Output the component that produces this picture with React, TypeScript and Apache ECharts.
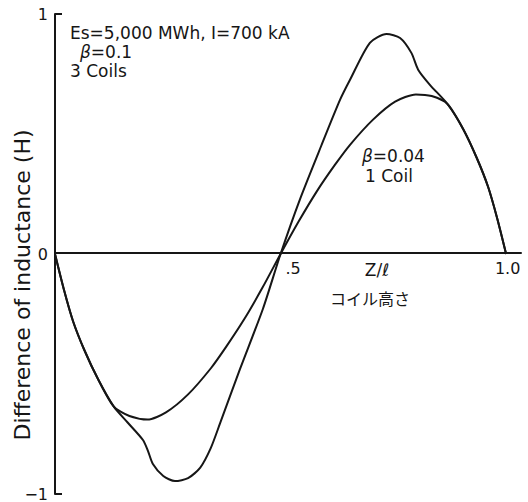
import React, { useEffect, useRef } from "react";
import * as echarts from "echarts";

// Normalised coil height Z/ℓ and inductance difference (H), β = 0.1, three coils
const coils3Z = [0, 0.02, 0.04, 0.065, 0.095, 0.13, 0.16, 0.195, 0.206, 0.217, 0.24, 0.266, 0.295, 0.322, 0.345, 0.366, 0.41, 0.461, 0.5, 0.543, 0.59, 0.632, 0.654, 0.698, 0.735, 0.765, 0.79, 0.805, 0.831, 0.87, 0.905, 0.935, 0.96, 0.98, 1.0];
const coils3L = [0, -0.15, -0.28, -0.4, -0.52, -0.635, -0.7, -0.775, -0.82, -0.875, -0.925, -0.946, -0.934, -0.89, -0.81, -0.705, -0.48, -0.228, 0, 0.228, 0.45, 0.643, 0.726, 0.88, 0.917, 0.9, 0.838, 0.768, 0.705, 0.625, 0.52, 0.4, 0.28, 0.15, 0];

// β = 0.04, single coil
const coil1Z = [0, 0.02, 0.04, 0.065, 0.095, 0.13, 0.165, 0.205, 0.246, 0.295, 0.346, 0.38, 0.42, 0.46, 0.5, 0.54, 0.58, 0.62, 0.654, 0.705, 0.754, 0.8, 0.835, 0.87, 0.905, 0.935, 0.96, 0.98, 1.0];
const coil1L = [0, -0.15, -0.28, -0.4, -0.52, -0.635, -0.675, -0.69, -0.66, -0.585, -0.475, -0.385, -0.27, -0.14, 0, 0.135, 0.26, 0.37, 0.455, 0.56, 0.635, 0.665, 0.658, 0.625, 0.52, 0.4, 0.28, 0.15, 0];

const yTicks = [-1, 0, 1];
const yTickText = ["−1", "0", "1"];
const xTicks = [0.5, 1.0];
const xTickText = [".5", "1.0"];

const FONT = "DejaVu Sans";
const INK = "#161616";

const GRID_TOP = 14;
const GRID_BOTTOM = 5;
const HEIGHT = 502;

const pairs = (xs: number[], ys: number[]) => xs.map((x, i) => [x, ys[i]]);

export default function App() {
  const ref = useRef<HTMLDivElement>(null);

  useEffect(() => {
    if (!ref.current) return;
    const chart = echarts.init(ref.current, undefined, { renderer: "svg" });
    const lineStyle = { color: INK, width: 2 };
    // the x axis sits on L = 0, halfway up the plot
    const halfPlot = (HEIGHT - GRID_TOP - GRID_BOTTOM) / 2;
    chart.setOption({
      animation: false,
      backgroundColor: "#ffffff",
      grid: { left: 55, right: 7, top: GRID_TOP, bottom: GRID_BOTTOM, containLabel: false },
      xAxis: {
        type: "value",
        min: 0,
        max: 1.033,
        offset: -halfPlot,
        axisLine: { onZero: false, lineStyle: { color: INK, width: 2 } },
        axisTick: { show: false },
        splitLine: { show: false },
        axisLabel: {
          customValues: xTicks,
          margin: 8,
          color: INK,
          fontFamily: FONT,
          fontSize: 16,
          formatter: (v: number) => {
            const i = xTicks.findIndex((t) => Math.abs(t - v) < 1e-6);
            if (i < 0) return "";
            return i === 0 ? `{a|${xTickText[i]}}` : `{b|${xTickText[i]}}`;
          },
          rich: {
            a: { padding: [0, 0, 0, 25], fontFamily: FONT, fontSize: 16, color: INK },
            b: { padding: [0, 0, 0, 3], fontFamily: FONT, fontSize: 16, color: INK },
          },
        },
      },
      yAxis: {
        type: "value",
        min: -1,
        max: 1,
        interval: 1,
        axisLine: { show: true, onZero: false, lineStyle: { color: INK, width: 2 } },
        axisTick: {
          show: true,
          inside: true,
          length: 7,
          customValues: [-1, 1],
          lineStyle: { color: INK, width: 2 },
        },
        splitLine: { show: false },
        axisLabel: {
          customValues: yTicks,
          margin: 7,
          color: INK,
          fontFamily: FONT,
          fontSize: 16,
          formatter: (v: number) => {
            const i = yTicks.findIndex((t) => Math.abs(t - v) < 1e-6);
            return i < 0 ? "" : yTickText[i];
          },
        },
      },
      graphic: [
        {
          type: "text",
          x: 22,
          y: 285,
          rotation: Math.PI / 2,
          style: {
            text: "Difference of inductance (H)",
            fill: INK,
            font: `22px "${FONT}"`,
            align: "center",
            verticalAlign: "middle",
          },
        },
        {
          type: "text",
          x: 70,
          y: 33,
          style: { text: "Es=5,000 MWh, I=700 kA", fill: INK, font: `17px "${FONT}"`, verticalAlign: "middle" },
        },
        {
          type: "text",
          x: 80,
          y: 52,
          style: {
            text: "{g|β}=0.1",
            fill: INK,
            font: `17px "${FONT}"`,
            verticalAlign: "middle",
            rich: { g: { fontStyle: "italic", fontFamily: FONT, fontSize: 17, fill: INK } },
          },
        },
        {
          type: "text",
          x: 70,
          y: 71,
          style: { text: "3 Coils", fill: INK, font: `17px "${FONT}"`, verticalAlign: "middle" },
        },
        {
          type: "text",
          x: 362,
          y: 156,
          style: {
            text: "{g|β}=0.04",
            fill: INK,
            font: `17px "${FONT}"`,
            verticalAlign: "middle",
            rich: { g: { fontStyle: "italic", fontFamily: FONT, fontSize: 17, fill: INK } },
          },
        },
        {
          type: "text",
          x: 365,
          y: 176,
          style: { text: "1 Coil", fill: INK, font: `17px "${FONT}"`, verticalAlign: "middle" },
        },
        {
          type: "text",
          x: 377,
          y: 270,
          style: { text: "Z/ℓ", fill: INK, font: `17px "${FONT}"`, align: "center", verticalAlign: "middle" },
        },
        {
          type: "text",
          x: 370,
          y: 298,
          style: { text: "コイル高さ", fill: INK, font: `16px "Noto Sans CJK JP"`, align: "center", verticalAlign: "middle" },
        },
      ],
      series: [
        {
          name: "3 Coils",
          type: "line",
          data: pairs(coils3Z, coils3L),
          smooth: 0.25,
          showSymbol: false,
          lineStyle,
        },
        {
          name: "1 Coil",
          type: "line",
          data: pairs(coil1Z, coil1L),
          smooth: 0.25,
          showSymbol: false,
          lineStyle,
        },
      ],
    });
    return () => chart.dispose();
  }, []);

  return <div ref={ref} style={{ position: "absolute", left: 0, top: 0, width: 528, height: HEIGHT }} />;
}
